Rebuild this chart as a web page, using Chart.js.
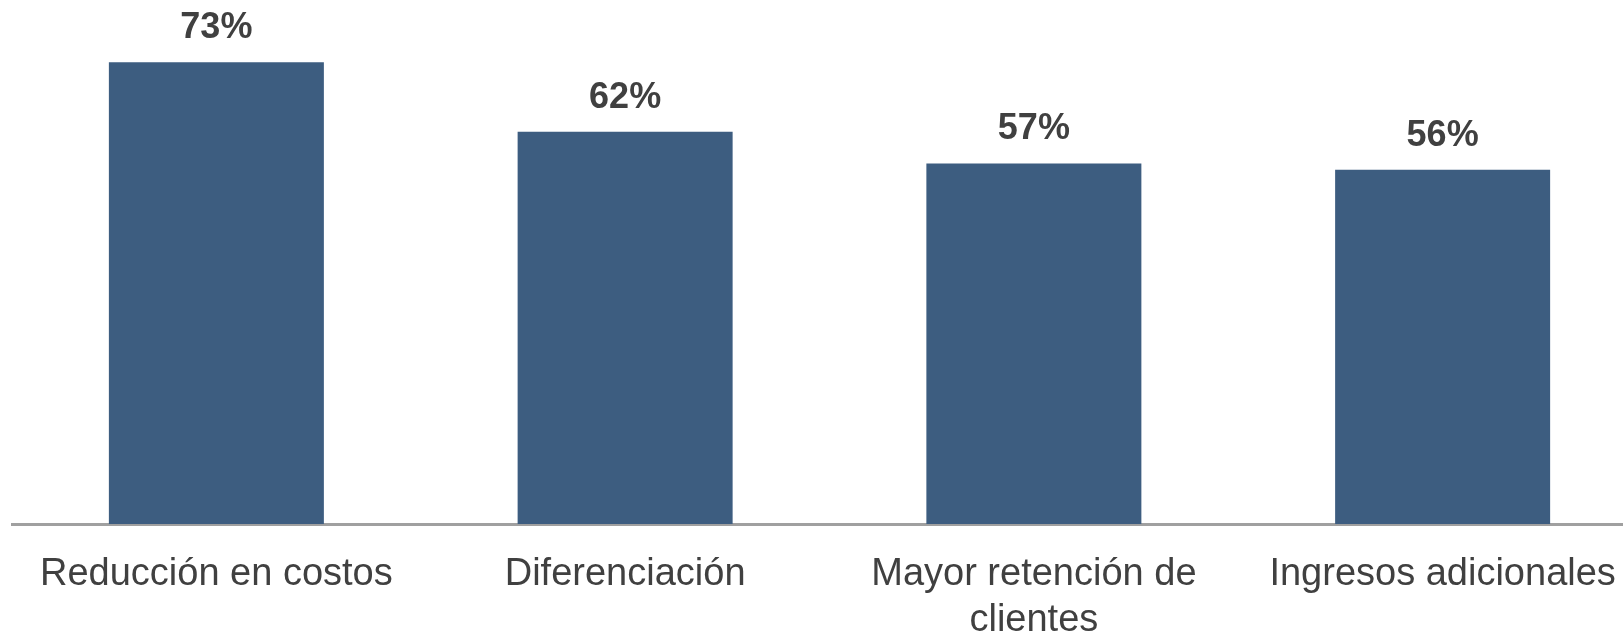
<!DOCTYPE html>
<html>
<head>
<meta charset="utf-8">
<script src="https://cdn.jsdelivr.net/npm/chart.js@4"></script>
<style>
  html, body { margin: 0; padding: 0; background: #ffffff; overflow: hidden; width: 1623px; height: 634px; }
  #wrap { position: absolute; left: 0; top: 0; width: 1647px; height: 634px; }
</style>
</head>
<body>
<div id="wrap"><canvas id="c" width="1647" height="634"></canvas></div>
<script>
const categories = ["Reducción en costos", "Diferenciación", ["Mayor retención de", "clientes"], "Ingresos adicionales"];
const values = [73, 62, 57, 56];
const valueLabels = ["73%", "62%", "57%", "56%"];

const barColor = "#3d5d80";
const textColor = "#404040";

const dataLabelPlugin = {
  id: "dataLabels",
  afterDatasetsDraw(chart) {
    const ctx = chart.ctx;
    const meta = chart.getDatasetMeta(0);
    ctx.save();
    ctx.font = "bold 36px 'Liberation Sans', Arial, sans-serif";
    ctx.fillStyle = textColor;
    ctx.textAlign = "center";
    ctx.textBaseline = "alphabetic";
    meta.data.forEach((bar, i) => {
      ctx.fillText(valueLabels[i], bar.x, bar.y - 24);
    });
    ctx.restore();
  }
};

new Chart(document.getElementById("c"), {
  type: "bar",
  data: {
    labels: categories,
    datasets: [{
      data: values,
      backgroundColor: barColor,
      borderWidth: 0,
      categoryPercentage: 1.0,
      barPercentage: 0.526
    }]
  },
  options: {
    responsive: false,
    devicePixelRatio: 1,
    animation: false,
    layout: { padding: { left: 12, right: 0, top: 18, bottom: 0 } },
    plugins: { legend: { display: false }, tooltip: { enabled: false } },
    scales: {
      x: {
        z: 1,
        grid: { display: false, drawTicks: false },
        border: { display: true, color: "#a0a0a0", width: 3 },
        ticks: {
          color: textColor,
          font: { family: "'Liberation Sans', Arial, sans-serif", size: 38, lineHeight: 1.22 },
          padding: 27,
          maxRotation: 0,
          autoSkip: false
        },
        afterFit(scale) { scale.height = 110; }
      },
      y: {
        display: false,
        min: 0,
        max: 80
      }
    }
  },
  plugins: [dataLabelPlugin]
});
</script>
</body>
</html>
